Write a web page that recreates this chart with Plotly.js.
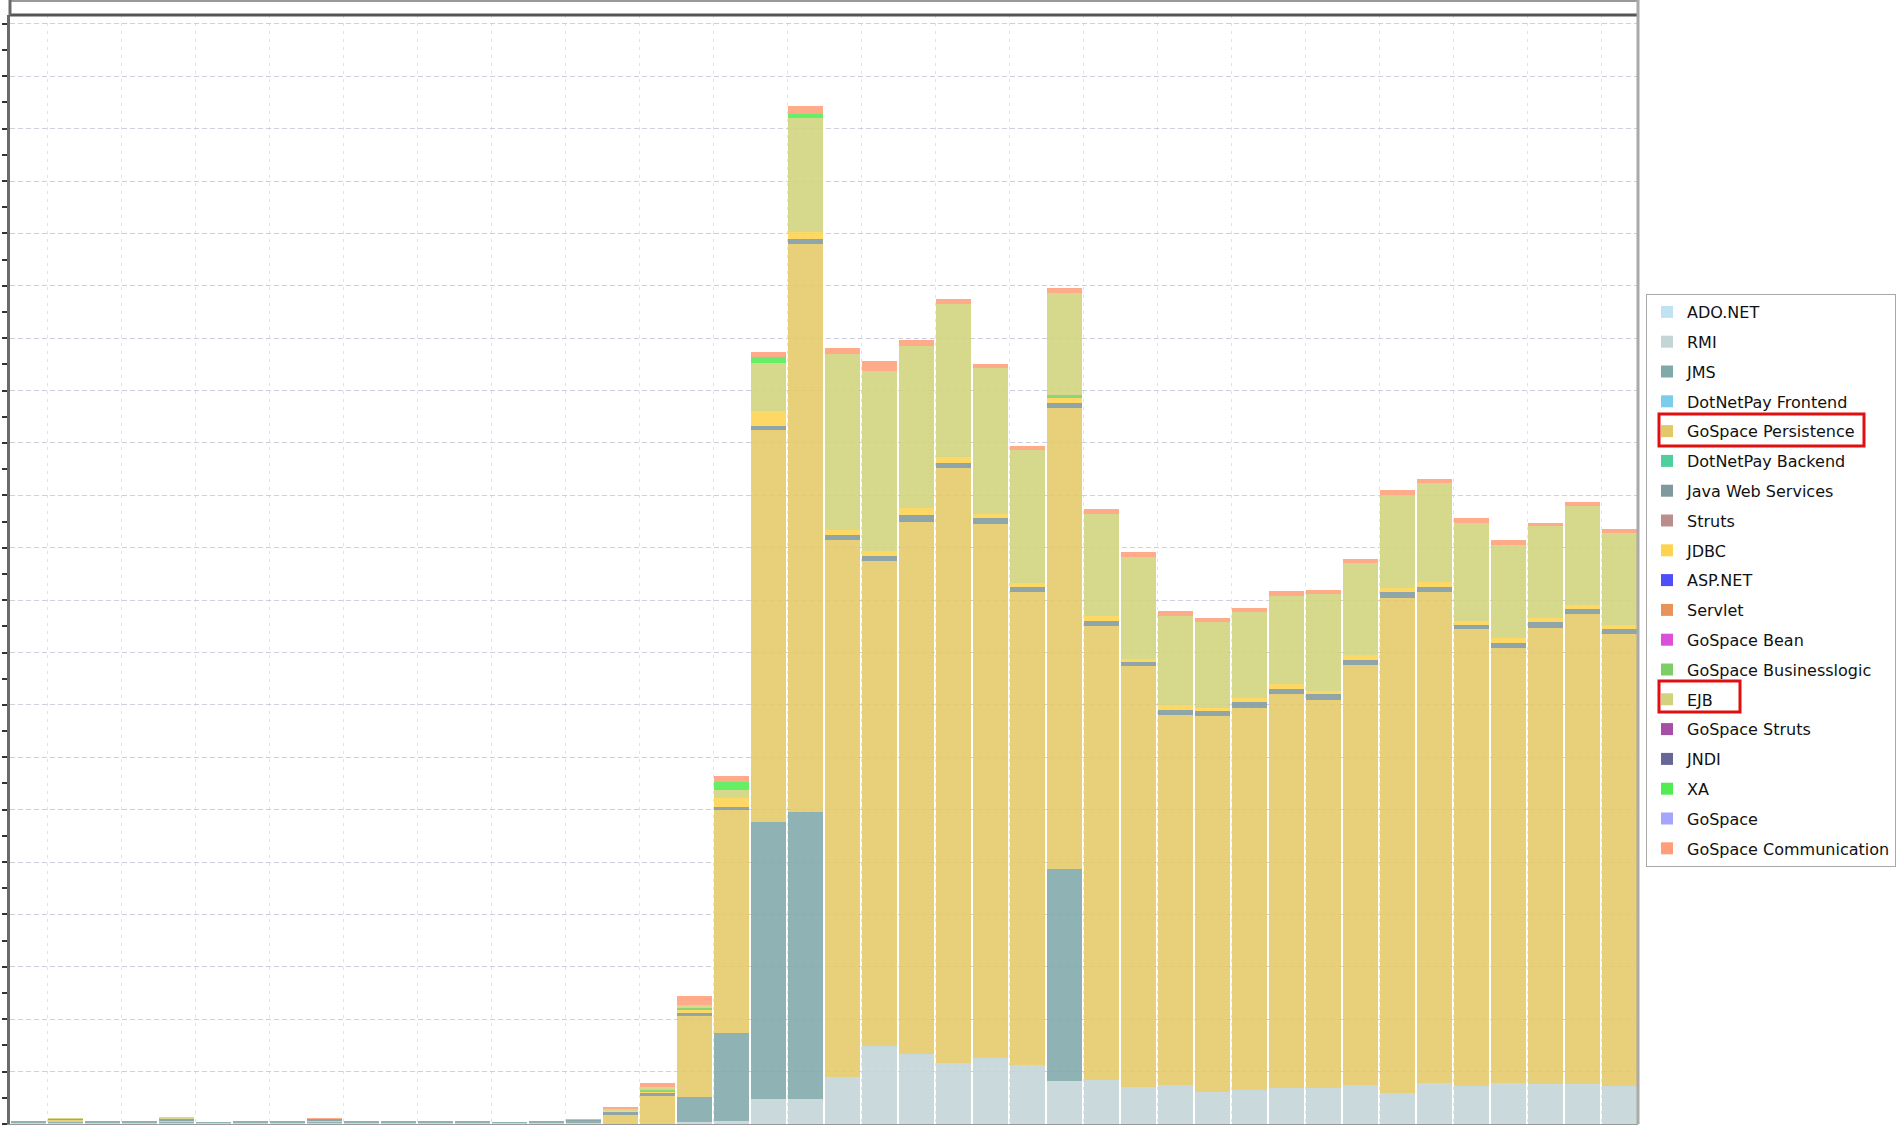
<!DOCTYPE html>
<html>
<head>
<meta charset="utf-8">
<script src="https://cdn.plot.ly/plotly-3.0.1.min.js"></script>
<style>
  html, body { margin: 0; padding: 0; background: #ffffff; }
  #chart { width: 1899px; height: 1125px; }
</style>
</head>
<body>
<div id="chart"></div>
<script>
// ---- categories (time bins, no labels shown) ----
const bins = [0,1,2,3,4,5,6,7,8,9,10,11,12,13,14,15,16,17,18,19,20,21,22,23,24,25,26,27,28,29,30,31,32,33,34,35,36,37,38,39,40,41,42,43];

// ---- series values (stacked, bottom to top) ----
const adoNet            = [0,0,0,0,0,0,0,0,0,0,0,0,0,0,0,0,0,0,0,0,0,0,0,0,0,0,0,0,0,0,0,0,0,0,0,0,0,0,0,0,0,0,0,0];
const rmi               = [0.2,0.1,0.2,0.2,0.1,0.15,0.2,0.2,0.1,0.2,0.2,0.2,0.2,0.15,0.2,0.2,0,0,0.4,0.5,4.85,4.7,8.9,14.85,13.3,11.7,12.6,11.35,8.3,8.4,7.1,7.4,6.2,6.5,6.9,6.8,7.4,6.0,7.9,7.25,7.8,7.6,7.6,7.25];
const jms               = [0.35,0.2,0.35,0.4,0.2,0.25,0.3,0.3,0.2,0.35,0.3,0.3,0.35,0.25,0.3,0.4,0,0,4.8,16.9,52.85,54.8,0,0,0,0,0,0,40.4,0,0,0,0,0,0,0,0,0,0,0,0,0,0,0];
const dotNetPayFrontend = [0,0,0,0,0,0,0,0,0,0,0,0,0,0,0,0,0,0,0,0,0,0,0,0,0,0,0,0,0,0,0,0,0,0,0,0,0,0,0,0,0,0,0,0];
const goSpacePersistence= [0,0.4,0,0,0.3,0,0,0,0.3,0,0,0,0,0,0,0,1.7,5.4,15.4,42.5,74.8,108.5,102.5,92.65,101.7,113.5,101.9,90.25,87.9,86.6,80.3,70.7,71.6,72.9,75.2,74.1,80.3,94.4,93.6,87.15,83.1,87.1,89.8,86.25];
const dotNetPayBackend  = [0,0,0,0,0,0,0,0,0,0,0,0,0,0,0,0,0,0,0,0,0,0,0,0,0,0,0,0,0,0,0,0,0,0,0,0,0,0,0,0,0,0,0,0];
const javaWebServices   = [0,0.2,0,0,0.4,0,0,0,0.3,0,0,0,0,0,0,0.1,0.55,0.5,0.6,0.7,0.8,1.0,1.0,1.0,1.3,1.0,1.2,0.9,1.0,1.1,0.8,1.0,1.0,1.1,1.0,1.1,0.9,1.1,1.0,0.9,1.0,1.1,1.0,0.9];
const struts            = [0,0,0,0,0,0,0,0,0,0,0,0,0,0,0,0,0,0,0,0,0,0,0,0,0,0,0,0,0,0,0,0,0,0,0,0,0,0,0,0,0,0,0,0];
const jdbc              = [0,0,0,0,0,0,0,0,0,0,0,0,0,0,0,0,0.25,0.2,0.5,1.7,2.9,1.2,0.9,0.9,1.2,1.2,0.8,0.8,1.0,0.8,0.6,0.8,0.6,0.8,0.8,0.6,1.0,0.9,0.9,0.7,0.8,0.8,0.7,0.9];
const aspNet            = [0,0,0,0,0,0,0,0,0,0,0,0,0,0,0,0,0,0,0,0,0,0,0,0,0,0,0,0,0,0,0,0,0,0,0,0,0,0,0,0,0,0,0,0];
const servlet           = [0,0,0,0,0,0,0,0,0,0,0,0,0,0,0,0,0,0,0,0,0,0,0,0,0,0,0,0,0,0,0,0,0,0,0,0,0,0,0,0,0,0,0,0];
const goSpaceBean       = [0,0,0,0,0,0,0,0,0,0,0,0,0,0,0,0,0,0,0,0,0,0,0,0,0,0,0,0,0,0,0,0,0,0,0,0,0,0,0,0,0,0,0,0];
const goSpaceBusiness   = [0,0,0,0,0,0,0,0,0,0,0,0,0,0,0,0,0,0.3,0.4,0,0,0,0,0,0,0,0,0,0.6,0,0,0,0,0,0,0,0,0,0,0,0,0,0,0];
const ejb               = [0,0.2,0,0,0.3,0,0,0,0.15,0,0,0,0,0,0,0,0.3,0.6,0.7,1.4,9.1,21.9,33.6,34.4,31.1,29.1,27.8,25.4,19.5,19.6,19.4,17.0,16.4,16.4,16.8,18.5,17.5,17.6,19.0,18.8,17.8,17.5,18.8,17.6];
const goSpaceStruts     = [0,0,0,0,0,0,0,0,0,0,0,0,0,0,0,0,0,0,0,0,0,0,0,0,0,0,0,0,0,0,0,0,0,0,0,0,0,0,0,0,0,0,0,0];
const jndi              = [0,0,0,0,0,0,0,0,0,0,0,0,0,0,0,0,0,0,0,0,0,0,0,0,0,0,0,0,0,0,0,0,0,0,0,0,0,0,0,0,0,0,0,0];
const xa                = [0,0,0,0,0,0,0,0,0,0,0,0,0,0,0,0,0,0,0,1.5,1.2,0.7,0,0,0,0,0,0,0,0,0,0,0,0,0,0,0,0,0,0,0,0,0,0];
const goSpace           = [0,0,0,0,0,0,0,0,0,0,0,0,0,0,0,0,0,0,0,0,0,0,0,0,0,0,0,0,0,0,0,0,0,0,0,0,0,0,0,0,0,0,0,0];
const goSpaceComm       = [0,0.1,0,0,0.1,0,0,0,0.1,0,0,0,0,0,0,0.3,0.45,0.8,1.6,1.3,0.8,1.6,1.3,1.9,1.1,1.0,0.8,0.8,0.9,0.9,0.9,1.0,0.8,0.8,1.0,0.8,0.8,1.0,0.8,0.8,0.9,0.7,0.8,0.7];

// ---- legend labels (in stacking order) ----
const seriesNames = ["ADO.NET","RMI","JMS","DotNetPay Frontend","GoSpace Persistence","DotNetPay Backend","Java Web Services","Struts","JDBC","ASP.NET","Servlet","GoSpace Bean","GoSpace Businesslogic","EJB","GoSpace Struts","JNDI","XA","GoSpace","GoSpace Communication"];
const seriesValues = [adoNet, rmi, jms, dotNetPayFrontend, goSpacePersistence, dotNetPayBackend, javaWebServices, struts, jdbc, aspNet, servlet, goSpaceBean, goSpaceBusiness, ejb, goSpaceStruts, jndi, xa, goSpace, goSpaceComm];
const seriesColors = ["rgb(192,227,244)","rgb(195,213,215)","rgb(128,169,170)","rgb(124,204,238)","rgb(229,200,102)","rgb(79,206,158)","rgb(128,153,156)","rgb(188,141,141)","rgb(253,211,79)","rgb(79,79,249)","rgb(232,147,90)","rgb(220,79,220)","rgb(124,206,102)","rgb(208,211,124)","rgb(165,79,165)","rgb(102,102,152)","rgb(81,236,81)","rgb(165,165,255)","rgb(255,158,120)"];

const traces = seriesNames.map((name, i) => ({
  type: 'bar',
  x: bins,
  y: seriesValues[i],
  name: name,
  legendgroup: name,
  marker: { color: seriesColors[i], opacity: 0.88, line: { width: 0 } },
  hoverinfo: 'skip'
}));

const W = 1899, H = 1125;
const mL = 10, mR = 261, mT = 15, mB = 1;
const pw = W - mL - mR, ph = H - mT - mB;
const px = v => (v - mL) / pw;
const py = v => (H - mB - v) / ph;

const layout = {
  width: W, height: H,
  margin: { l: mL, r: mR, t: mT, b: mB, pad: 0, autoexpand: false },
  paper_bgcolor: '#ffffff',
  plot_bgcolor: '#ffffff',
  barmode: 'stack',
  bargap: 0.03,
  showlegend: true,
  font: { family: 'DejaVu Sans', size: 16, color: '#111' },
  xaxis: {
    range: [-0.5, 43.5],
    tick0: 0.5, dtick: 2,
    showticklabels: false, ticks: '',
    showgrid: true, gridcolor: '#f4dcd6', gridwidth: 1, griddash: '3px,5px',
    zeroline: false,
    showline: true, linecolor: '#9a9a9a', linewidth: 1,
    fixedrange: true
  },
  yaxis: {
    range: [0, 211.7],
    tick0: 0, dtick: 10,
    showticklabels: false,
    ticks: 'outside', ticklen: 5, tickwidth: 2, tickcolor: '#333',
    showgrid: true, gridcolor: '#cdd0da', gridwidth: 1, griddash: '5px,3px',
    minor: { dtick: 5, ticks: 'outside', ticklen: 5, tickwidth: 2, tickcolor: '#333', showgrid: false },
    zeroline: false,
    showline: true, linecolor: '#6a6a6a', linewidth: 3,
    fixedrange: true
  },
  legend: {
    x: px(1646), xanchor: 'left',
    y: py(294), yanchor: 'top',
    bgcolor: 'rgba(255,255,255,0)',
    bordercolor: '#a8a8a8', borderwidth: 1,
    font: { family: 'DejaVu Sans', size: 16, color: '#111' },
    traceorder: 'grouped',
    tracegroupgap: 6,
    itemclick: false, itemdoubleclick: false
  },
  shapes: [
    // thin frame line above the plot
    { type: 'line', xref: 'paper', yref: 'paper', x0: 0, x1: 1, y0: py(1), y1: py(1), line: { color: '#9a9a9a', width: 2 } },
    // thick top border of plot
    { type: 'line', xref: 'paper', yref: 'paper', x0: 0, x1: 1, y0: 1, y1: 1, line: { color: '#555555', width: 3 } },
    // left frame extension
    { type: 'line', xref: 'paper', yref: 'paper', x0: 0, x1: 0, y0: 1, y1: py(0), line: { color: '#6a6a6a', width: 3 } },
    // right border
    { type: 'line', xref: 'paper', yref: 'paper', x0: 1, x1: 1, y0: 0, y1: py(0), line: { color: '#aaaaaa', width: 3 } },
    // highlight boxes in legend
    { type: 'rect', xref: 'paper', yref: 'paper', x0: px(1659), x1: px(1864), y0: py(446), y1: py(414), line: { color: '#e01010', width: 3 }, fillcolor: 'rgba(0,0,0,0)' },
    { type: 'rect', xref: 'paper', yref: 'paper', x0: px(1659), x1: px(1740), y0: py(712), y1: py(681), line: { color: '#e01010', width: 3 }, fillcolor: 'rgba(0,0,0,0)' }
  ]
};

Plotly.newPlot('chart', traces, layout, { staticPlot: true, displayModeBar: false });
</script>
</body>
</html>
